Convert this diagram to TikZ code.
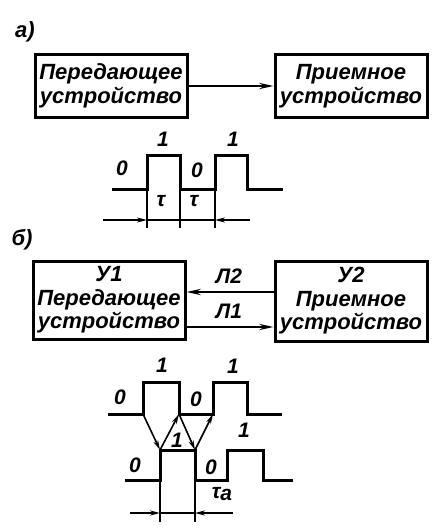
\documentclass[tikz,border=0pt]{standalone}
\usepackage{fontspec}
\setmainfont{Liberation Sans}
\usetikzlibrary{arrows.meta}

\begin{document}
\begin{tikzpicture}[x=1pt, y=-1pt,
    bloc/.style={draw, line width=3pt, minimum width=152pt, inner sep=0pt, align=center,
        font=\fontsize{22}{23.5}\selectfont\bfseries\itshape},
    signal/.style={line width=3pt, line join=miter},
    fleche/.style={line width=2.4pt, -{Stealth[length=14pt, width=6pt]}},
    cote/.style={line width=1.2pt},
    pointe/.style={line width=1.6pt, -{Stealth[length=10pt, width=5pt]}},
    etiq/.style={font=\fontsize{21}{21}\selectfont\bfseries\itshape},
    titre/.style={font=\fontsize{22}{22}\selectfont\bfseries\itshape}]
    \useasboundingbox (0,0) rectangle (438,532);

    % Schema a)
    \node[titre] (ta) at (25,32) {а)};
    \node[bloc, minimum height=63pt] (emA) at (111,86) {Передающее\\устройство};
    \node[bloc, minimum height=63pt] (reA) at (351,86) {Приемное\\устройство};
    \draw[fleche] (emA) -- (reA);

    % Impulsions a)
    \draw[signal] (112,189) -- (147,189) -- (147,155) -- (180,155) -- (180,189)
        -- (215,189) -- (215,155) -- (247,155) -- (247,189) -- (283,189);
    \coordinate (A1) at (147,220);
    \coordinate (A2) at (180,220);
    \coordinate (A3) at (215,220);
    \coordinate (A0) at (103,220);
    \coordinate (A4) at (250,220);
    \foreach \p in {A1,A2,A3} \draw[cote] (\p |- 0,189) -- ([yshift=-8pt]\p);
    \draw[cote] (A1) -- (A3);
    \draw[pointe] (A0) -- (A1);
    \draw[pointe] (A4) -- (A3);
    \node[etiq] (a0) at (122,168) {0};
    \node[etiq] (a1) at (163,139) {1};
    \node[etiq] (a2) at (197,170) {0};
    \node[etiq] (a3) at (233,139) {1};
    \node[etiq] (at1) at (161,201) {τ};
    \node[etiq] (at2) at (194,201) {τ};

    % Schema b)
    \node[titre] (tb) at (22,240) {б)};
    \node[bloc, minimum height=78pt] (emB) at (109,300) {У1\\Передающее\\устройство};
    \node[bloc, minimum height=80pt] (reB) at (351,301) {У2\\Приемное\\устройство};
    \draw[fleche] ([yshift=9pt]reB.west) -- ([yshift=9pt]reB.west -| emB.east);
    \draw[fleche] ([yshift=-27pt]emB.east) -- ([yshift=-27pt]emB.east -| reB.west);
    \node[etiq] (l2) at (229,276) {Л2};
    \node[etiq] (l1) at (229,311) {Л1};

    % Impulsions b)
    \draw[signal] (108,414) -- (143,414) -- (143,382) -- (179,382) -- (179,414)
        -- (213,414) -- (213,382) -- (247,382) -- (247,414) -- (282,414);
    \draw[signal] (125,480) -- (160,480) -- (160,450) -- (195,450) -- (195,480)
        -- (227,480) -- (227,450) -- (263,450) -- (263,480) -- (293,480);
    \coordinate (H1) at (143,414);
    \coordinate (H2) at (179,414);
    \coordinate (H3) at (213,414);
    \coordinate (B1) at (160,450);
    \coordinate (B2) at (195,450);
    \draw[pointe] (H1) -- (B1);
    \draw[pointe] (B1) -- (H2);
    \draw[pointe] (H2) -- (B2);
    \draw[pointe] (B2) -- (H3);
    \draw[cote] (H2) -- (H3);
    \draw[cote] (B1) -- (B2);

    % Retard
    \coordinate (C1) at (160,513);
    \coordinate (C2) at (195,513);
    \coordinate (C0) at (130,513);
    \coordinate (C3) at (233,513);
    \foreach \p in {C1,C2} \draw[line width=1.6pt] (\p |- 0,480) -- ([yshift=-9pt]\p);
    \draw[cote] (C1) -- (C2);
    \draw[pointe] (C0) -- (C1);
    \draw[pointe] (C3) -- (C2);

    \node[etiq] (b0) at (120,397) {0};
    \node[etiq] (b1) at (162,365) {1};
    \node[etiq] (b2) at (196,399) {0};
    \node[etiq] (b3) at (233,366) {1};
    \node[etiq] (c0) at (135,465) {0};
    \node[etiq] (c1) at (177,440) {1};
    \node[etiq] (c2) at (211,467) {0};
    \node[etiq] (c3) at (244,430) {1};
    \node[etiq] (ta2) at (222,494) {τ\raisebox{-2pt}{a}};
\end{tikzpicture}
\end{document}
